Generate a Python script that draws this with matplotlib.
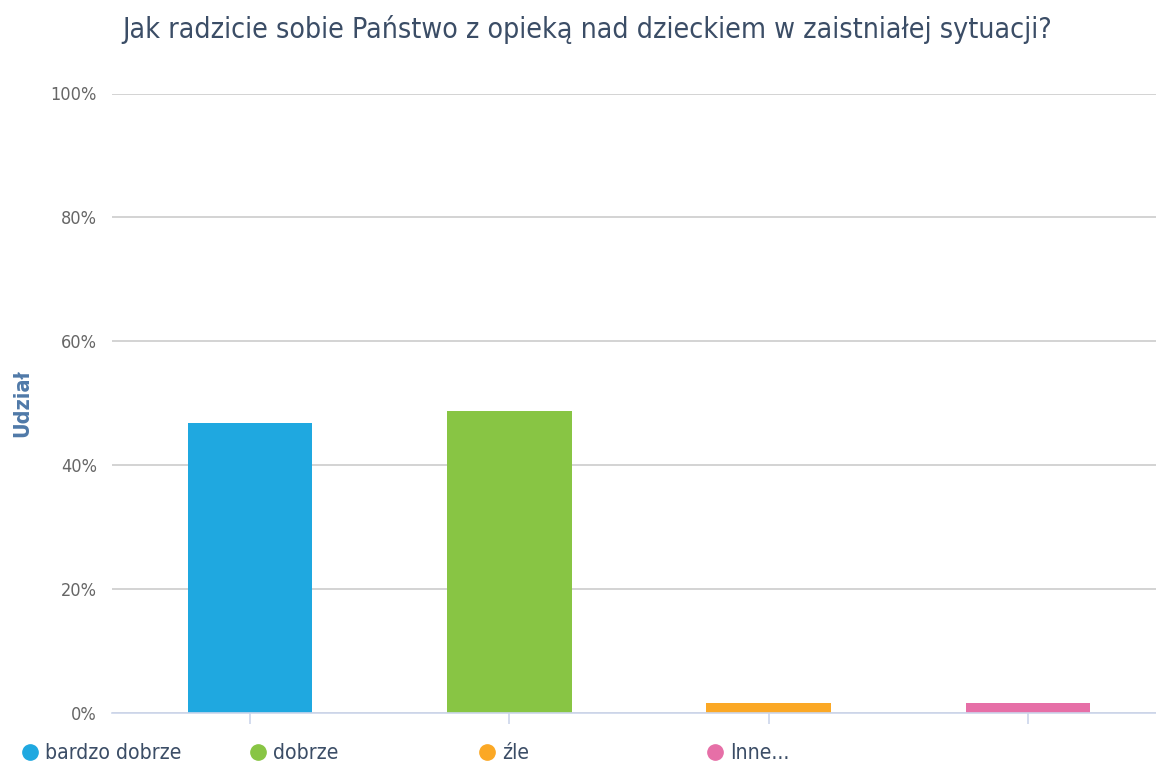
import matplotlib.pyplot as plt
from matplotlib.lines import Line2D

kategorie = ["bardzo dobrze", "dobrze", "źle", "Inne..."]
udzial = [46.8, 48.8, 1.6, 1.6]
kolory = ["#1fa8e0", "#88c544", "#fba825", "#e66fa7"]
y_ticks = [0, 20, 40, 60, 80, 100]

TYTUL = "Jak radzicie sobie Państwo z opieką nad dzieckiem w zaistniałej sytuacji?"
TEKST = "#3b4d66"
FONT = dict(family="DejaVu Sans", stretch="condensed")

fig = plt.figure(figsize=(11.56, 7.64), dpi=100)
ax = fig.add_axes([112 / 1156, 1 - 713 / 764, 1 - 112 / 1156, (713 - 93.5) / 764])

x = list(range(len(kategorie)))
ax.bar(x, udzial, width=0.48, color=kolory, zorder=3)

ax.set_xlim(-0.532, 3.494)
ax.set_ylim(0, 100)
ax.set_yticks(y_ticks)
ax.set_yticklabels([f"{v}%" for v in y_ticks], color="#666666", fontsize=13, **FONT)
ax.set_xticks(x)
ax.set_xticklabels([])
ax.tick_params(axis="y", length=0, pad=11)
ax.tick_params(axis="x", length=8, color="#ccd6eb", width=1.2)
ax.grid(axis="y", color="#cccccc", linewidth=1.2, zorder=0)
for s in ["top", "right", "left"]:
    ax.spines[s].set_visible(False)
ax.spines["bottom"].set_color("#ccd6eb")
ax.spines["bottom"].set_linewidth(1.2)
ax.spines["bottom"].set_zorder(4)

fig.text(587 / 1156, 1 - 30 / 764, TYTUL, ha="center", va="center",
         fontsize=20.4, color=TEKST, **FONT)
fig.text(22 / 1156, 1 - 403 / 764, "Udział", rotation=90, ha="center", va="center",
         fontsize=15.5, fontweight="bold", color="#4f79a8", **FONT)

# legenda pod wykresem
leg_x = [30, 258, 487, 715]
for lx, nazwa, kol in zip(leg_x, kategorie, kolory):
    fig.lines.append(Line2D([lx / 1156], [1 - 752 / 764], marker="o", markersize=11,
                            color=kol, linestyle="", transform=fig.transFigure))
    fig.text((lx + 15) / 1156, 1 - 753 / 764, nazwa, ha="left", va="center",
             fontsize=15.2, color=TEKST, **FONT)

fig.savefig("out.png", dpi=100)
